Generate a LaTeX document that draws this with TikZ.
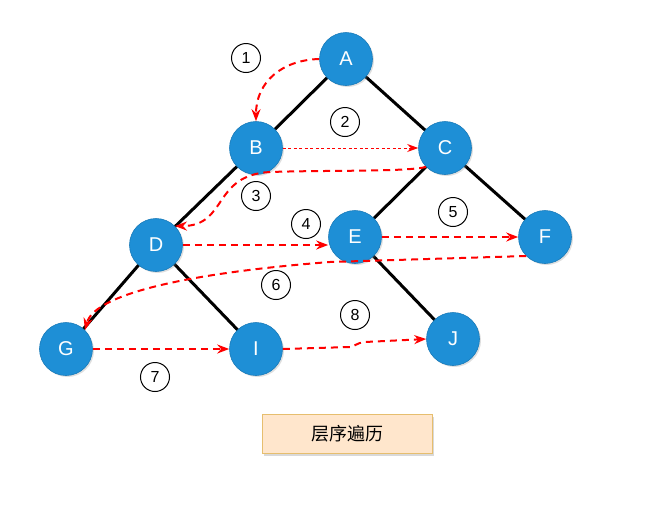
\documentclass[tikz,border=0pt]{standalone}
\usepackage{fontspec}
\setmainfont{Liberation Sans}
\newfontfamily\cjk{Noto Sans CJK SC}
\usetikzlibrary{arrows.meta,shadows}
\definecolor{nodeblue}{HTML}{1E8FD6}
\definecolor{nodeedge}{HTML}{1A7BB9}
\definecolor{boxfill}{HTML}{FFE6CC}
\definecolor{boxedge}{HTML}{E6BE6E}
\begin{document}
\begin{tikzpicture}[x=1pt,y=-1pt,
  tnode/.style={circle,fill=nodeblue,draw=nodeedge,line width=0.6pt,minimum size=53pt,inner sep=0pt,text=white,font=\fontsize{20}{22}\selectfont,drop shadow={shadow xshift=1.5pt,shadow yshift=-1.5pt,opacity=0.25}},
  num/.style={circle,draw=black,line width=1pt,minimum size=29pt,inner sep=0pt,font=\fontsize{16}{18}\selectfont},
  edge/.style={line width=3pt,black},
  trav/.style={red,line width=2pt,dash pattern=on 7pt off 5pt,-{Stealth[length=12pt,width=9pt]}},
  travthin/.style={red,line width=1pt,dash pattern=on 3pt off 2.5pt,-{Stealth[length=11pt,width=8pt]}}]
\useasboundingbox (0,0) rectangle (646,504);
% tree edges
\coordinate (pA) at (346,59);
\coordinate (pB) at (256,148);
\coordinate (pC) at (445,148);
\coordinate (pD) at (156,245);
\coordinate (pE) at (355,237);
\coordinate (pF) at (545,237);
\coordinate (pG) at (66,349);
\coordinate (pI) at (256,349);
\coordinate (pJ) at (453,339);
\draw[edge] (pA) -- (pB);
\draw[edge] (pA) -- (pC);
\draw[edge] (pB) -- (pD);
\draw[edge] (pC) -- (pE);
\draw[edge] (pC) -- (pF);
\draw[edge] (pD) -- (pG);
\draw[edge] (pD) -- (pI);
\draw[edge] (pE) -- (pJ);
% nodes
\node[tnode] (A) at (pA) {A};
\node[tnode] (B) at (pB) {B};
\node[tnode] (C) at (pC) {C};
\node[tnode] (D) at (pD) {D};
\node[tnode] (E) at (pE) {E};
\node[tnode] (F) at (pF) {F};
\node[tnode] (G) at (pG) {G};
\node[tnode] (I) at (pI) {I};
\node[tnode] (J) at (pJ) {J};
% number labels
\node[num] (n1) at (246,58) {1};
\node[num] (n2) at (345,122) {2};
\node[num] (n3) at (256,196) {3};
\node[num] (n4) at (306,224) {4};
\node[num] (n5) at (453,212) {5};
\node[num] (n6) at (276,285) {6};
\node[num] (n7) at (155,377) {7};
\node[num] (n8) at (355,315) {8};
% traversal arrows
\draw[trav] (A.west) .. controls (282,60) and (256,82) .. (B.north);
\draw[travthin] (B.east) -- (C.west);
\draw[trav] (C.south west) .. controls (405,172) and (330,170) .. (270,172)
  .. controls (212,175) and (228,226) .. (D.north east);
\draw[trav] (D.east |- 0,245) -- (E.west |- 0,245);
\draw[trav] (E.east) -- (F.west);
\draw[trav] (F.south west |- 0,256) -- (330,262) .. controls (200,272) and (95,292) .. (G.north east);
\draw[trav] (G.east) -- (I.west);
\draw[trav] (I.east) -- (350,347) .. controls (356,346) and (356,343) .. (365,342) -- (J.west);
% caption
\node[draw=boxedge,fill=boxfill,line width=0.8pt,minimum width=170pt,minimum height=39pt,inner sep=0pt,font=\cjk\fontsize{18}{20}\selectfont,drop shadow={shadow xshift=2pt,shadow yshift=-2pt,opacity=0.3}] (cap) at (347,434) {层序遍历};
\end{tikzpicture}
\end{document}
